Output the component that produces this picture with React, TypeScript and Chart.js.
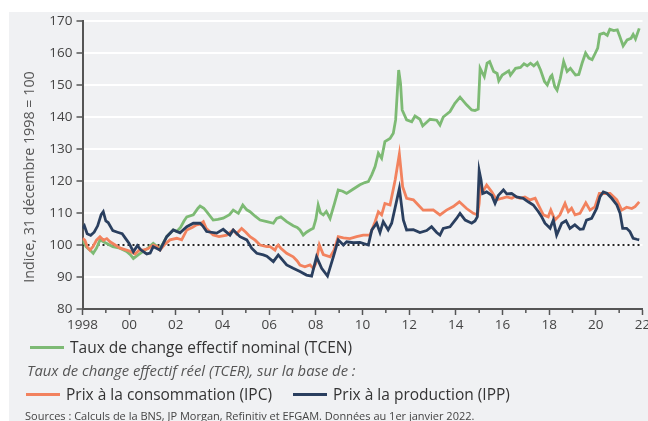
import React, { useEffect, useRef } from 'react';
import { Chart, registerables } from 'chart.js';

Chart.register(...registerables);

// ---- Data (years as decimals, values as index 31.12.1998 = 100) ----
const tcenYears = [
  1998.0, 1998.15, 1998.32, 1998.46, 1998.6, 1998.75, 1998.9, 1999.04, 1999.3, 1999.6, 1999.89,
  2000.05, 2000.18, 2000.4, 2000.6, 2000.8, 2001.03, 2001.2, 2001.32, 2001.45, 2001.61, 2001.89,
  2002.04, 2002.2, 2002.35, 2002.47, 2002.75, 2002.95, 2003.04, 2003.2, 2003.32, 2003.6, 2003.8,
  2004.03, 2004.3, 2004.46, 2004.68, 2004.87, 2005.04, 2005.18, 2005.4, 2005.61, 2005.9, 2006.18,
  2006.32, 2006.5, 2006.75, 2007.03, 2007.2, 2007.32, 2007.46, 2007.6, 2007.75, 2007.89, 2008.0,
  2008.1, 2008.2, 2008.32, 2008.45, 2008.61, 2008.8, 2008.96, 2009.15, 2009.32, 2009.61, 2009.89,
  2010.1, 2010.25, 2010.4, 2010.54, 2010.68, 2010.82, 2010.96, 2011.18, 2011.32, 2011.42, 2011.55,
  2011.63, 2011.7, 2011.89, 2012.11, 2012.25, 2012.46, 2012.58, 2012.89, 2013.18, 2013.32, 2013.46,
  2013.75, 2013.96, 2014.18, 2014.46, 2014.68, 2014.82, 2014.96, 2015.04, 2015.12, 2015.22, 2015.34,
  2015.45, 2015.62, 2015.77, 2015.84, 2015.99, 2016.27, 2016.34, 2016.56, 2016.77, 2016.92, 2017.06,
  2017.2, 2017.34, 2017.49, 2017.63, 2017.8, 2017.92, 2018.06, 2018.12, 2018.24, 2018.34, 2018.48,
  2018.62, 2018.77, 2018.91, 2019.13, 2019.27, 2019.41, 2019.56, 2019.7, 2019.84, 2019.98, 2020.08,
  2020.17, 2020.34, 2020.49, 2020.6, 2020.77, 2020.92, 2021.02, 2021.17, 2021.34, 2021.51, 2021.6,
  2021.7, 2021.86,
];
const tcenValues = [
  101.6, 99.5, 98.4, 97.4, 99, 101.6, 101, 100.5, 99.5, 99, 98,
  97, 95.8, 97, 98, 99, 100.5, 99.5, 99, 100.5, 102.6, 104.7,
  104.2, 105.5, 107.5, 108.8, 109.4, 111.5, 112.2, 111.5, 110.4, 107.8, 108,
  108.4, 109.5, 110.9, 109.9, 112.5, 111, 110.4, 109, 107.8, 107.3, 106.8,
  108.3, 108.8, 107.3, 106, 105.5, 104.7, 103.1, 104, 104.7, 105.2, 108,
  112.5, 110, 109.4, 110.5, 108.3, 113, 117.2, 116.8, 116.1, 117.5, 118.8,
  119.5, 119.8, 122, 124.5, 128.7, 127.1, 132.3, 133.3, 134.9, 139.1, 154.7,
  150.5, 142.2, 139.1, 138.5, 140.3, 139.3, 137.2, 139.3, 139, 137.5, 140,
  141.7, 144.3, 146.2, 143.8, 142.2, 142, 142.5, 155.2, 154, 152.6, 156.8,
  157.3, 154.2, 153.6, 151.3, 153.1, 154.4, 153.1, 155.2, 155.5, 156.6, 156,
  156.8, 156, 157, 154.7, 151.1, 150, 152.6, 153.1, 149.5, 148.4, 152.1,
  157.3, 154.2, 155.2, 153.1, 153.3, 156.8, 160, 158.4, 157.9, 160, 161.5,
  165.8, 166.2, 165.5, 167.4, 167, 167.2, 165.3, 162.2, 164.1, 164.6, 165.8,
  164.4, 167.7,
];

const ipcYears = [
  1998.0, 1998.1, 1998.2, 1998.32, 1998.45, 1998.6, 1998.75, 1998.9, 1999.04, 1999.18, 1999.4,
  1999.61, 1999.89, 2000.05, 2000.25, 2000.45, 2000.6, 2000.8, 2001.03, 2001.2, 2001.32, 2001.5,
  2001.75, 2002.04, 2002.25, 2002.47, 2002.7, 2002.89, 2003.04, 2003.18, 2003.3, 2003.6, 2003.85,
  2004.18, 2004.46, 2004.6, 2004.82, 2005.0, 2005.18, 2005.4, 2005.61, 2005.9, 2006.04, 2006.25,
  2006.32, 2006.39, 2006.5, 2006.75, 2007.03, 2007.2, 2007.32, 2007.53, 2007.75, 2007.89, 2008.0,
  2008.15, 2008.32, 2008.61, 2008.78, 2008.96, 2009.18, 2009.46, 2009.75, 2010.03, 2010.32, 2010.54,
  2010.68, 2010.82, 2010.96, 2011.18, 2011.4, 2011.58, 2011.72, 2011.89, 2012.18, 2012.39, 2012.6,
  2013.03, 2013.32, 2013.6, 2013.89, 2014.15, 2014.46, 2014.75, 2014.93, 2015.0, 2015.05, 2015.15,
  2015.32, 2015.54, 2015.75, 2015.97, 2016.18, 2016.4, 2016.54, 2016.75, 2016.96, 2017.18, 2017.4,
  2017.54, 2017.75, 2017.96, 2018.07, 2018.25, 2018.46, 2018.68, 2018.82, 2018.96, 2019.11, 2019.32,
  2019.57, 2019.75, 2019.96, 2020.15, 2020.4, 2020.61, 2020.9, 2021.11, 2021.32, 2021.54, 2021.68,
  2021.86,
];
const ipcValues = [
  102.1, 101.5, 99.5, 98.4, 99.5, 101.5, 102.6, 101.5, 102, 101, 100,
  99, 98.4, 98, 97.2, 98.5, 98.4, 98.8, 100, 99.5, 98.4, 100,
  101.6, 102.1, 101.6, 104.7, 105.5, 106.3, 106.5, 107.3, 105.2, 103.1, 102.6,
  103.1, 104.7, 103.5, 105.2, 104, 102.6, 101.5, 100, 99.5, 99.5, 98.4,
  99.5, 100, 99, 97.4, 96.3, 95, 93.75, 93.2, 93.8, 92.7, 94.2,
  100, 97, 96.3, 98.4, 102.6, 102.2, 102, 102.6, 103.1, 103.1, 107.3,
  110.4, 109.4, 113, 112.5, 120.3, 128.4, 118.2, 114.6, 114.1, 112.5, 110.9,
  111, 109.4, 110.9, 112, 113.5, 111.4, 109.9, 109.4, 113, 118.2, 116.6,
  118.75, 116.6, 114.1, 114.6, 115, 114.6, 115.2, 114.6, 115, 114.1, 114.6,
  112.5, 109.4, 108.8, 110.9, 107.8, 109.4, 113, 110.4, 111.5, 109.4, 109.9,
  113.2, 110.9, 111.9, 116.1, 116.1, 116.1, 114.1, 110.9, 111.8, 111.4, 112,
  113.5,
];

const ippYears = [
  1998.0, 1998.08, 1998.2, 1998.35, 1998.5, 1998.65, 1998.8, 1998.89, 1999.0, 1999.1, 1999.3,
  1999.5, 1999.7, 1999.85, 2000.0, 2000.18, 2000.35, 2000.5, 2000.75, 2000.9, 2001.03, 2001.32,
  2001.61, 2001.89, 2002.18, 2002.47, 2002.75, 2003.04, 2003.15, 2003.32, 2003.75, 2004.03, 2004.32,
  2004.46, 2004.75, 2005.04, 2005.25, 2005.47, 2005.75, 2005.9, 2006.18, 2006.39, 2006.55, 2006.75,
  2007.03, 2007.32, 2007.6, 2007.82, 2008.03, 2008.25, 2008.5, 2008.75, 2008.96, 2009.18, 2009.32,
  2009.61, 2009.89, 2010.25, 2010.4, 2010.61, 2010.75, 2010.89, 2011.1, 2011.25, 2011.58, 2011.75,
  2011.89, 2012.18, 2012.46, 2012.75, 2012.96, 2013.18, 2013.32, 2013.46, 2013.75, 2014.03, 2014.18,
  2014.4, 2014.68, 2014.82, 2014.92, 2015.0, 2015.08, 2015.15, 2015.32, 2015.54, 2015.68, 2015.82,
  2016.04, 2016.18, 2016.39, 2016.6, 2016.89, 2017.1, 2017.32, 2017.54, 2017.68, 2017.82, 2018.04,
  2018.18, 2018.32, 2018.54, 2018.72, 2018.89, 2019.1, 2019.32, 2019.46, 2019.6, 2019.82, 2020.04,
  2020.18, 2020.32, 2020.47, 2020.68, 2020.9, 2021.04, 2021.15, 2021.32, 2021.46, 2021.6, 2021.75,
  2021.86,
];
const ippValues = [
  105.2, 106, 103.5, 103, 104, 106, 109.5, 110.4, 107.5, 107, 104.5,
  104, 103.5, 102, 100.5, 97.9, 99.8, 98.5, 97.2, 97.5, 99.5, 98.4,
  102.6, 104.7, 103.8, 105.7, 106.8, 106.8, 106, 104.2, 103.7, 104.9, 103.1,
  104.7, 102.6, 101.6, 99, 97.4, 96.9, 96.5, 94.8, 96.9, 95.5, 93.75,
  92.7, 91.7, 90.6, 90.3, 96.3, 92.7, 90.3, 96.3, 101.6, 100, 101,
  100.7, 100.8, 100, 104.7, 106.8, 103.9, 107.3, 104.7, 106.8, 117.7, 107.8,
  104.7, 104.8, 103.9, 104.5, 105.7, 103.9, 103.1, 105.2, 105.7, 108.3, 109.9,
  107.8, 106.8, 107.5, 108.8, 123.2, 120.3, 116.1, 116.6, 115.5, 113, 115.5,
  117.2, 116, 116.1, 115, 114.6, 113.5, 112.5, 110.4, 108.8, 106.8, 105.2,
  107.8, 103.1, 106.8, 107.6, 105.2, 106.3, 104.9, 105, 107.8, 108.3, 111.5,
  115.1, 116.6, 116.2, 114.6, 112.5, 109.9, 105.2, 105.2, 104.2, 102.1, 101.8,
  101.6,
];

const baseLine = [100, 100];
const baseYears = [1998, 2022];

const xMajorYears = [1998, 2000, 2002, 2004, 2006, 2008, 2010, 2012, 2014, 2016, 2018, 2020, 2022];
const xMajorLabels = ['1998', '00', '02', '04', '06', '08', '10', '12', '14', '16', '18', '20', '22'];
const xMinorYears = [1999, 2001, 2003, 2005, 2007, 2009, 2011, 2013, 2015, 2017, 2019, 2021];
const yMin = 80;
const yMax = 170;
const yStep = 10;

const legendNominal = 'Taux de change effectif nominal (TCEN)';
const legendReal = 'Taux de change effectif réel (TCER), sur la base de :';
const legendIPC = 'Prix à la consommation (IPC)';
const legendIPP = 'Prix à la production (IPP)';
const yTitle = 'Indice, 31 décembre 1998 = 100';
const sourceText = 'Sources : Calculs de la BNS, JP Morgan, Refinitiv et EFGAM. Données au 1er janvier 2022.';

const GREEN = '#7dba74';
const ORANGE = '#f2825e';
const NAVY = '#2a3f5f';
const AXIS = '#555555';
const TEXT = '#333333';
const FONT = '"Open Sans", "Noto Sans", sans-serif';

const pts = (xs: number[], ys: number[]) => xs.map((x, i) => ({ x, y: ys[i] }));

const minorTicksPlugin = {
  id: 'minorTicks',
  afterDraw(chart: any) {
    const xs = chart.scales.x;
    const ctx = chart.ctx;
    const bottom = chart.chartArea.bottom;
    ctx.save();
    ctx.strokeStyle = AXIS;
    ctx.lineWidth = 1.5;
    xMinorYears.forEach((yr) => {
      const px = xs.getPixelForValue(yr);
      ctx.beginPath();
      ctx.moveTo(px, bottom);
      ctx.lineTo(px, bottom + 4);
      ctx.stroke();
    });
    ctx.restore();
  },
};

function ChartCanvas() {
  const ref = useRef<HTMLCanvasElement | null>(null);
  useEffect(() => {
    if (!ref.current) return;
    const chart = new Chart(ref.current, {
      type: 'line',
      data: {
        datasets: [
          { label: 'IPP', data: pts(ippYears, ippValues), borderColor: NAVY, borderWidth: 2.8, pointRadius: 0, order: 1, tension: 0 },
          { label: 'IPC', data: pts(ipcYears, ipcValues), borderColor: ORANGE, borderWidth: 2.8, pointRadius: 0, order: 2, tension: 0 },
          { label: 'TCEN', data: pts(tcenYears, tcenValues), borderColor: GREEN, borderWidth: 2.8, pointRadius: 0, order: 3, tension: 0 },
          { label: 'base', data: pts(baseYears, baseLine), borderColor: '#222222', borderWidth: 2, borderDash: [2, 3], pointRadius: 0, order: 4 },
        ],
      } as any,
      options: {
        animation: false,
        responsive: false,
        maintainAspectRatio: false,
        layout: { padding: { left: 0, right: 17.5, top: 21, bottom: 0 } },
        plugins: { legend: { display: false }, tooltip: { enabled: false } },
        scales: {
          x: {
            type: 'linear',
            min: 1998,
            max: 2022,
            afterBuildTicks: (s: any) => {
              s.ticks = xMajorYears.map((v) => ({ value: v }));
            },
            afterFit: (s: any) => {
              s.height = 31;
            },
            ticks: {
              autoSkip: false,
              maxRotation: 0,
              padding: 2,
              color: '#444444',
              font: { family: FONT, size: 13.5 },
              callback: (v: any) => {
                const i = xMajorYears.indexOf(Number(v));
                return i >= 0 ? xMajorLabels[i] : '';
              },
            },
            grid: { display: true, drawOnChartArea: false, tickLength: 6, tickColor: AXIS, tickWidth: 1.5 },
            border: { color: AXIS, width: 2 },
          },
          y: {
            min: yMin,
            max: yMax,
            afterFit: (s: any) => {
              s.width = 82.5;
            },
            ticks: { stepSize: yStep, padding: 4, color: '#444444', font: { family: FONT, size: 13.5 } },
            grid: { color: '#ffffff', lineWidth: 2, tickLength: 6, tickColor: AXIS, tickWidth: 1.5 },
            border: { color: AXIS, width: 2 },
          },
        },
      } as any,
      plugins: [minorTicksPlugin],
    });
    return () => chart.destroy();
  }, []);
  return (
    <canvas
      ref={ref}
      width={660}
      height={340}
      style={{ position: 'absolute', left: 0, top: 0, width: 660, height: 340 }}
    />
  );
}

const swatch = (color: string, left: number, top: number) => (
  <div style={{ position: 'absolute', left, top, width: 34, height: 3, background: color }} />
);

export default function App() {
  return (
    <div
      style={{
        position: 'fixed',
        left: 0,
        top: 0,
        width: 648,
        height: 421,
        overflow: 'hidden',
        background: '#ffffff',
        fontFamily: FONT,
      }}
    >
      <div style={{ position: 'absolute', left: 9, top: 12, width: 660, height: 430, background: '#f0f1f3' }} />
      <ChartCanvas />
      <div
        style={{
          position: 'absolute',
          left: 28.5,
          top: 176.5,
          transform: 'translate(-50%, -50%) rotate(-90deg)',
          whiteSpace: 'nowrap',
          fontSize: 14.3,
          color: '#555555',
          lineHeight: '16px',
        }}
      >
        {yTitle}
      </div>
      {swatch(GREEN, 30, 346)}
      <div style={{ position: 'absolute', left: 70, top: 337, fontSize: 15.5, color: TEXT, whiteSpace: 'nowrap', lineHeight: '20px' }}>
        {legendNominal}
      </div>
      <div
        style={{ position: 'absolute', left: 27, top: 360, fontSize: 14.8, fontStyle: 'italic', color: '#555555', whiteSpace: 'nowrap', lineHeight: '20px' }}
      >
        {legendReal}
      </div>
      {swatch(ORANGE, 26, 393)}
      <div style={{ position: 'absolute', left: 66, top: 384, fontSize: 15.5, color: TEXT, whiteSpace: 'nowrap', lineHeight: '20px' }}>
        {legendIPC}
      </div>
      {swatch(NAVY, 293, 393)}
      <div style={{ position: 'absolute', left: 333, top: 384, fontSize: 15.5, color: TEXT, whiteSpace: 'nowrap', lineHeight: '20px' }}>
        {legendIPP}
      </div>
      <div style={{ position: 'absolute', left: 25, top: 408, fontSize: 11, color: '#444444', whiteSpace: 'nowrap', lineHeight: '16px' }}>
        {sourceText}
      </div>
    </div>
  );
}
